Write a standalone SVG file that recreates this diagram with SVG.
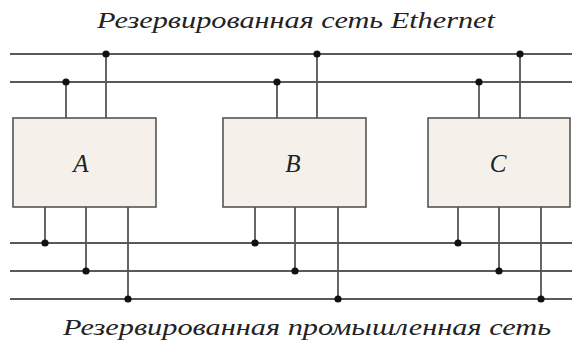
<svg xmlns="http://www.w3.org/2000/svg" width="572" height="347" viewBox="0 0 572 347">
  <style>
    .bus { stroke: #222; stroke-width: 1.6; fill: none; }
    .drop { stroke: #555; stroke-width: 1.8; fill: none; }
    .box { fill: #f5f1ea; stroke: #555; stroke-width: 1.6; }
    .dot { fill: #111; }
    text { font-family: 'Liberation Serif', 'DejaVu Serif', serif; font-style: italic; fill: #222; }
    .cap { font-size: 23.5px; }
    .lbl { font-size: 25px; text-anchor: middle; }
  </style>

  <!-- network captions -->
  <text class="cap" x="97" y="28" textLength="398" lengthAdjust="spacingAndGlyphs">Резервированная сеть Ethernet</text>
  <text class="cap" x="63" y="335" textLength="488" lengthAdjust="spacingAndGlyphs">Резервированная промышленная сеть</text>

  <!-- nodes -->
  <g id="node-a">
    <rect class="box" x="13" y="118" width="143" height="89"/>
    <text class="lbl" x="81" y="172">A</text>
  </g>
  <g id="node-b">
    <rect class="box" x="223" y="118" width="143" height="89"/>
    <text class="lbl" x="293" y="172">B</text>
  </g>
  <g id="node-c">
    <rect class="box" x="428" y="118" width="142" height="89"/>
    <text class="lbl" x="498" y="172">C</text>
  </g>

  <!-- connectors -->
  <g id="connectors">
    <!-- Ethernet buses -->
    <line class="bus" x1="10" y1="54" x2="572" y2="54"/>
    <line class="bus" x1="10" y1="82" x2="572" y2="82"/>
    <!-- industrial buses -->
    <line class="bus" x1="10" y1="243" x2="572" y2="243"/>
    <line class="bus" x1="10" y1="271" x2="572" y2="271"/>
    <line class="bus" x1="10" y1="299" x2="572" y2="299"/>

    <!-- upward taps -->
    <line class="drop" x1="66" y1="82" x2="66" y2="118"/>
    <line class="drop" x1="106" y1="54" x2="106" y2="118"/>
    <line class="drop" x1="277" y1="82" x2="277" y2="118"/>
    <line class="drop" x1="317" y1="54" x2="317" y2="118"/>
    <line class="drop" x1="479" y1="82" x2="479" y2="118"/>
    <line class="drop" x1="520" y1="54" x2="520" y2="118"/>

    <!-- downward taps -->
    <line class="drop" x1="45" y1="207" x2="45" y2="243"/>
    <line class="drop" x1="86" y1="207" x2="86" y2="271"/>
    <line class="drop" x1="128" y1="207" x2="128" y2="299"/>
    <line class="drop" x1="255" y1="207" x2="255" y2="243"/>
    <line class="drop" x1="295" y1="207" x2="295" y2="271"/>
    <line class="drop" x1="338" y1="207" x2="338" y2="299"/>
    <line class="drop" x1="458" y1="207" x2="458" y2="243"/>
    <line class="drop" x1="499" y1="207" x2="499" y2="271"/>
    <line class="drop" x1="541" y1="207" x2="541" y2="299"/>

    <!-- junctions -->
    <circle class="dot" cx="66" cy="82" r="3.6"/>
    <circle class="dot" cx="106" cy="54" r="3.6"/>
    <circle class="dot" cx="277" cy="82" r="3.6"/>
    <circle class="dot" cx="317" cy="54" r="3.6"/>
    <circle class="dot" cx="479" cy="82" r="3.6"/>
    <circle class="dot" cx="520" cy="54" r="3.6"/>
    <circle class="dot" cx="45" cy="243" r="3.6"/>
    <circle class="dot" cx="86" cy="271" r="3.6"/>
    <circle class="dot" cx="128" cy="299" r="3.6"/>
    <circle class="dot" cx="255" cy="243" r="3.6"/>
    <circle class="dot" cx="295" cy="271" r="3.6"/>
    <circle class="dot" cx="338" cy="299" r="3.6"/>
    <circle class="dot" cx="458" cy="243" r="3.6"/>
    <circle class="dot" cx="499" cy="271" r="3.6"/>
    <circle class="dot" cx="541" cy="299" r="3.6"/>
  </g>
</svg>
